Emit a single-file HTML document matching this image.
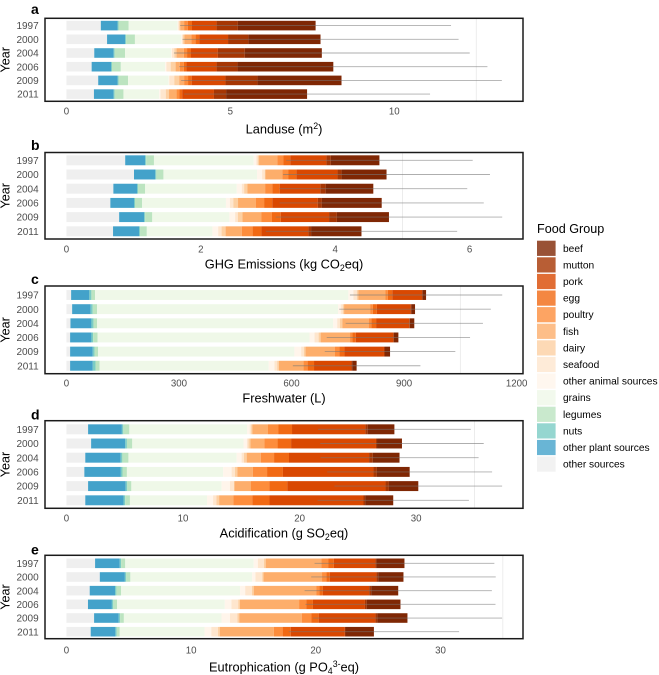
<!DOCTYPE html>
<html><head><meta charset="utf-8"><title>Food group impacts</title>
<style>
html,body{margin:0;padding:0;background:#fff;width:659px;height:675px;overflow:hidden}
svg{display:block;font-family:"Liberation Sans",sans-serif}
</style></head>
<body>
<svg id="chart" width="659" height="675" viewBox="0 0 659 675" xmlns="http://www.w3.org/2000/svg"></svg>
<script>
const years = ['1997','2000','2004','2006','2009','2011'];
const groups = ['other sources','other plant sources','nuts','legumes','grains','other animal sources','seafood','dairy','fish','poultry','egg','pork','mutton','beef'];

// a: Landuse (m2)
const landOther = [1.05,1.24,.85,.77,.97,.84];
const landPlant = [.51,.55,.59,.59,.59,.60];
const landNuts = [.03,.03,.03,.03,.03,.03];
const landLegumes = [.31,.27,.32,.27,.29,.27];
const landGrains = [1.49,1.41,1.40,1.35,1.24,1.09];
const landAnimal = [.02,.02,.03,.04,.02,.04];
const landSeafood = [.03,.03,.07,.13,.15,.16];
const landDairy = [.03,.05,.07,.15,.15,.10];
const landFish = [.12,.21,.22,.13,.15,.23];
const landPoultry = [.11,.13,.10,.12,.12,.08];
const landEgg = [.13,.11,.12,.08,.11,.09];
const landPork = [.75,.88,.82,.92,1.03,.97];
const landMutton = [.65,.62,.82,.64,.98,.37];
const landBeef = [2.37,2.20,2.35,2.92,2.56,2.47];
const landErr = [4.13,4.21,4.51,4.70,4.89,3.75];
const landTicks = [0,5,10];

// b: GHG emissions (kg CO2eq)
const ghgOther = [.875,1.006,.699,.654,.785,.694];
const ghgPlant = [.297,.317,.352,.352,.372,.387];
const ghgNuts = [.015,.015,.015,.015,.015,.015];
const ghgLegumes = [.116,.106,.106,.106,.106,.101];
const ghgGrains = [1.484,1.393,1.363,1.247,1.147,.976];
const ghgAnimal = [.04,.075,.075,.06,.086,.086];
const ghgSeafood = [.02,.04,.035,.05,.04,.05];
const ghgDairy = [.02,.01,.05,.07,.07,.06];
const ghgFish = [.272,.252,.262,.267,.282,.241];
const ghgPoultry = [.091,.091,.106,.121,.156,.161];
const ghgEgg = [.101,.116,.111,.121,.131,.131];
const ghgPork = [.538,.614,.604,.679,.719,.699];
const ghgMutton = [.065,.06,.08,.06,.116,.04];
const ghgBeef = [.724,.669,.709,.89,.775,.75];
const ghgErr = [1.388,1.539,1.398,1.519,1.685,1.424];
const ghgTicks = [0,2,4,6];

// c: Freshwater (L)
const waterOther = [12.6,15.3,10.8,9.9,9.9,9.9];
const waterPlant = [48.6,49.5,55.9,56.8,60.4,60.4];
const waterNuts = [5.4,5.4,5.4,4.5,4.5,7.2];
const waterLegumes = [9.9,11.7,9.9,11.7,9.9,10.8];
const waterGrains = [675,642,629,565,523,451];
const waterAnimal = [13.5,7.2,10.8,13.5,18,15.3];
const waterSeafood = [9,5.4,7.2,10.8,7.2,7.2];
const waterDairy = [4.5,3.6,6.3,5.4,4.5,4.5];
const waterFish = [72,69.4,70.3,78.4,78.4,65.8];
const waterPoultry = [6.3,7.2,7.2,6.3,11.7,10.8];
const waterEgg = [11.7,10.8,12.6,9,13.5,17.1];
const waterPork = [79.3,90,88.3,100,105.4,100];
const waterMutton = [1.8,1.8,1.8,1.8,2.7,1.8];
const waterBeef = [9,9.9,11.7,11.7,13.5,11.7];
const waterErr = [203,202,183,191,174,170];
const waterTicks = [0,300,600,900,1200];

// d: Acidification (g SO2eq)
const acidOther = [1.86,2.12,1.62,1.54,1.86,1.62];
const acidPlant = [2.90,2.93,3.04,3.13,3.22,3.28];
const acidNuts = [.12,.14,.14,.14,.14,.14];
const acidLegumes = [.52,.46,.52,.38,.35,.41];
const acidGrains = [10.09,9.54,9.28,8.26,7.74,6.61];
const acidAnimal = [.23,.29,.43,.72,.72,.52];
const acidSeafood = [.12,.14,.20,.29,.35,.29];
const acidDairy = [.12,.17,.23,.20,.03,.23];
const acidFish = [1.33,1.19,1.22,1.33,1.42,1.22];
const acidPoultry = [.90,1.13,1.13,1.22,1.57,1.62];
const acidEgg = [1.16,1.16,1.28,1.36,1.54,1.48];
const acidPork = [6.29,7.28,6.87,7.77,8.43,8.06];
const acidMutton = [.20,.09,.32,.29,.29,.14];
const acidBeef = [2.29,2.14,2.29,2.81,2.52,2.41];
const acidErr = [6.55,7.01,6.78,7.07,7.19,6.49];
const acidTicks = [0,10,20,30];

// e: Eutrophication (g PO4 3- eq)
const eutOther = [2.30,2.68,1.87,1.73,2.22,1.95];
const eutPlant = [1.98,2.01,2.03,1.92,1.98,1.98];
const eutNuts = [.11,.11,.11,.11,.11,.11];
const eutLegumes = [.33,.33,.38,.30,.30,.24];
const eutGrains = [10.30,9.76,9.54,8.64,7.83,6.80];
const eutAnimal = [.33,.27,.41,.54,.68,.54];
const eutSeafood = [.49,.54,.54,.54,.60,.54];
const eutDairy = [.14,.11,.14,.14,.14,.14];
const eutFish = [4.47,4.69,5.01,4.74,5.01,4.34];
const eutPoultry = [.54,.35,.27,.57,.76,.70];
const eutEgg = [.46,.27,.27,.54,.60,.65];
const eutPork = [3.33,3.74,3.71,4.17,4.55,4.34];
const eutMutton = [.08,.14,.16,.14,.16,.05];
const eutBeef = [2.25,2.03,2.17,2.71,2.41,2.28];
const eutErr = [7.21,7.40,7.51,7.62,7.59,6.83];
const eutTicks = [0,10,20,30];

const groupColors = ['#efefef','#43a2ca','#7bccc4','#bce4c0','#eff8e8','#fff5eb','#fee6ce','#fdd0a2','#fdae6b','#fd8d3c','#f16913','#d94801','#a63603','#7f2704'];

const panels = [
 {key:'landuse',letter:'a',letterY:14,top:18.3,bottom:101.3,rowTop:25.6,pitch:13.7,pxPerUnit:32.79,tickY:111,titleY:129,
  gridAt:12.5,ticks:landTicks,err:landErr,
  title:[['Landuse (m',0],['2',1],[')',0]],
  series:[landOther,landPlant,landNuts,landLegumes,landGrains,landAnimal,landSeafood,landDairy,landFish,landPoultry,landEgg,landPork,landMutton,landBeef]},
 {key:'ghg',letter:'b',letterY:150,top:152.5,bottom:239,rowTop:160.3,pitch:14.2,pxPerUnit:67.2,tickY:249,titleY:264,
  gridAt:5,ticks:ghgTicks,err:ghgErr,
  title:[['GHG Emissions (kg CO',0],['2',-1],['eq)',0]],
  series:[ghgOther,ghgPlant,ghgNuts,ghgLegumes,ghgGrains,ghgAnimal,ghgSeafood,ghgDairy,ghgFish,ghgPoultry,ghgEgg,ghgPork,ghgMutton,ghgBeef]},
 {key:'freshwater',letter:'c',letterY:284,top:286,bottom:373.7,rowTop:295,pitch:14.15,pxPerUnit:.3752,tickY:383,titleY:398,
  gridAt:1050,ticks:waterTicks,err:waterErr,
  title:[['Freshwater (L)',0]],
  series:[waterOther,waterPlant,waterNuts,waterLegumes,waterGrains,waterAnimal,waterSeafood,waterDairy,waterFish,waterPoultry,waterEgg,waterPork,waterMutton,waterBeef]},
 {key:'acidification',letter:'d',letterY:419.7,top:420.7,bottom:508.3,rowTop:429.3,pitch:14.2,pxPerUnit:11.66,tickY:518,titleY:533,
  gridAt:35,ticks:acidTicks,err:acidErr,
  title:[['Acidification (g SO',0],['2',-1],['eq)',0]],
  series:[acidOther,acidPlant,acidNuts,acidLegumes,acidGrains,acidAnimal,acidSeafood,acidDairy,acidFish,acidPoultry,acidEgg,acidPork,acidMutton,acidBeef]},
 {key:'eutrophication',letter:'e',letterY:554.3,top:555.3,bottom:638.7,rowTop:563.3,pitch:13.68,pxPerUnit:12.47,tickY:650,titleY:667,
  gridAt:35,ticks:eutTicks,err:eutErr,
  title:[['Eutrophication (g PO',0],['4',-1],['3-',1],['eq)',0]],
  series:[eutOther,eutPlant,eutNuts,eutLegumes,eutGrains,eutAnimal,eutSeafood,eutDairy,eutFish,eutPoultry,eutEgg,eutPork,eutMutton,eutBeef]}
];

const NS = 'http://www.w3.org/2000/svg';
const svg = document.getElementById('chart');
const zeroX = 66.4, frameL = 45, frameR = 523;

function make(tag, attrs, parent) {
  const el = document.createElementNS(NS, tag);
  for (const k in attrs) el.setAttribute(k, attrs[k]);
  parent.appendChild(el);
  return el;
}

panels.forEach(function (p) {
  const xOf = function (v) { return zeroX + v * p.pxPerUnit; };
  const yOf = function (i) { return p.rowTop + i * p.pitch; };
  const g = make('g', {}, svg);
  
  

  const letter = make('text', {x: 31, y: p.letterY, 'font-size': 14, 'font-weight': 'bold', fill: '#000'}, g);
  letter.textContent = p.letter;
  
  

  const grid = make('line', {x1: xOf(p.gridAt), x2: xOf(p.gridAt), y1: p.top, y2: p.bottom, stroke: '#e8e8e8', 'stroke-width': .8}, g);
  
  

  years.forEach(function (yr, i) {
    let sum = 0;
    const h = p.pitch * 0.7;
    p.series.forEach(function (s, j) {
      const r = make('rect', {x: xOf(sum), y: yOf(i) - h / 2, width: s[i] * p.pxPerUnit, height: h, fill: groupColors[j]}, g);
      
      
      sum += s[i];
    });
    const e = make('line', {x1: xOf(sum - p.err[i]), x2: xOf(sum + p.err[i]), y1: yOf(i), y2: yOf(i), stroke: 'rgba(120,120,120,.6)', 'stroke-width': .9}, g);
    
    

    const lab = make('text', {x: 38.7, y: yOf(i) + 3.6, 'font-size': 10, 'text-anchor': 'end', fill: '#4d4d4d'}, g);
    lab.textContent = yr;
    
    
  });

  const frame = make('rect', {x: frameL, y: p.top, width: frameR - frameL, height: p.bottom - p.top, fill: 'none', stroke: '#1a1a1a', 'stroke-width': 1.5}, g);
  
  

  p.ticks.forEach(function (t) {
    const tk = make('text', {x: xOf(t), y: p.tickY + 3.4, 'font-size': 9.7, 'text-anchor': 'middle', fill: '#4d4d4d'}, g);
    tk.textContent = t;
    
    
  });

  const yt = make('text', {transform: 'translate(9.5,' + ((p.top + p.bottom) / 2) + ') rotate(-90)', 'font-size': 12.6, 'text-anchor': 'middle', fill: '#000'}, g);
  yt.textContent = 'Year';
  
  

  const xt = make('text', {x: 284, y: p.titleY + 4.3, 'font-size': 12.8, 'text-anchor': 'middle', fill: '#000'}, g);
  
  
  let shift = 0;
  p.title.forEach(function (part) {
    const ts = make('tspan', {}, xt);
    const target = part[1] === 1 ? -4.5 : part[1] === -1 ? 2.5 : 0;
    ts.setAttribute('dy', target - shift);
    shift = target;
    if (part[1] !== 0) ts.setAttribute('font-size', 8.8);
    ts.textContent = part[0];
  });
});

// legend: listed from beef at the top down to other sources
const legendTop = 248.3, legendPitch = 16.6;
const legend = make('g', {}, svg);


const legendTitle = make('text', {x: 537, y: 233, 'font-size': 12.6, fill: '#000'}, legend);
legendTitle.textContent = 'Food Group';


groups.slice().reverse().forEach(function (name, i) {
  const col = groupColors[groups.length - 1 - i];
  const cy = legendTop + i * legendPitch;
  const key = make('rect', {x: 537, y: cy - 7.6, width: 18.6, height: 15.2, fill: col, 'fill-opacity': .8}, legend);
  
  
  const txt = make('text', {x: 563, y: cy + 3.5, 'font-size': 10.2, fill: '#000'}, legend);
  txt.textContent = name;
  
  
});
</script>
</body></html>
